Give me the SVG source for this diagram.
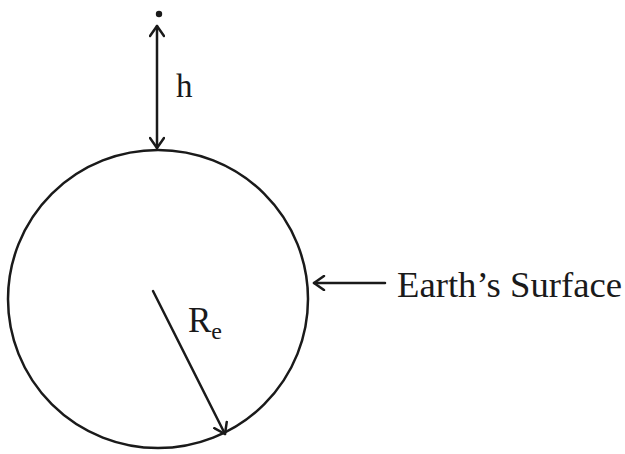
<svg xmlns="http://www.w3.org/2000/svg" width="625" height="454" viewBox="0 0 625 454">
<style>
.ln{fill:none;stroke:#1a1a1a;stroke-width:2.5;stroke-linecap:round;stroke-linejoin:round}
.t{font-family:"Liberation Serif","Times New Roman",serif;fill:#1a1a1a}
</style>
<defs>
<marker id="v" viewBox="-12 -8 14 16" markerWidth="14" markerHeight="16" refX="0" refY="0" orient="auto-start-reverse" markerUnits="userSpaceOnUse">
<path d="M-10,-7 L0,0 L-10,7" fill="none" stroke="#1a1a1a" stroke-width="2.5" stroke-linecap="round" stroke-linejoin="round"/>
</marker>
</defs>
<rect width="625" height="454" fill="#fff"/>
<g id="earth">
<ellipse cx="158" cy="299" rx="150" ry="149" class="ln"/>
</g>
<g id="body">
<circle cx="159" cy="14" r="3.2" fill="#1a1a1a"/>
</g>
<g id="connectors">
<line x1="157" y1="26" x2="157" y2="148" class="ln" marker-start="url(#v)" marker-end="url(#v)"/>
<line x1="385" y1="283" x2="314" y2="283" class="ln" marker-end="url(#v)"/>
<line x1="153" y1="291" x2="225" y2="434" class="ln" marker-end="url(#v)"/>
</g>
<g id="labels">
<text x="176" y="97" class="t" font-size="33">h</text>
<text x="397" y="297" class="t" font-size="35" textLength="225" lengthAdjust="spacingAndGlyphs">Earth’s Surface</text>
<text x="188" y="332" class="t" font-size="35">R<tspan font-size="24" dy="7">e</tspan></text>
</g>
</svg>
